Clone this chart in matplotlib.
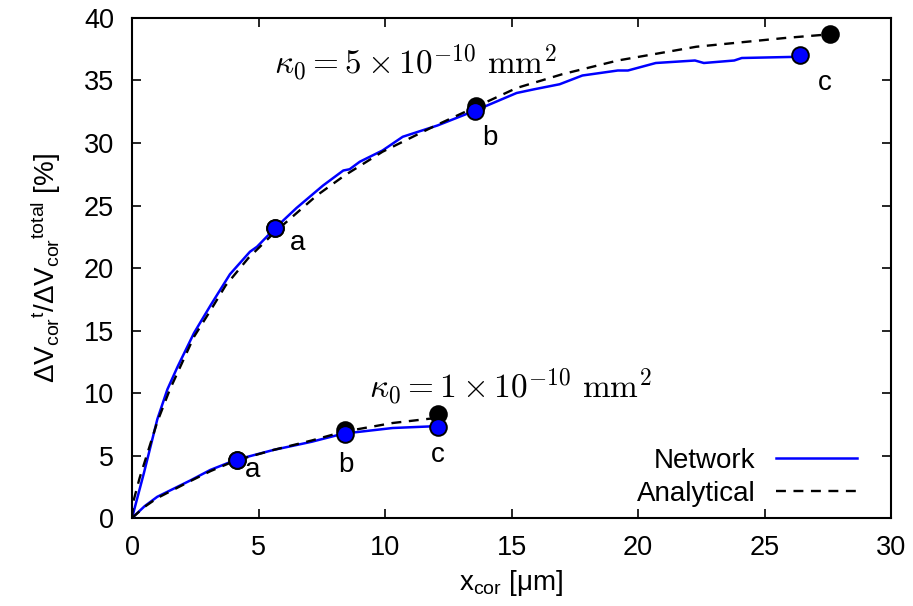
import matplotlib
matplotlib.use("Agg")
from matplotlib import pyplot as plt

plt.rcParams['font.family'] = ['Liberation Sans', 'DejaVu Sans']
plt.rcParams['mathtext.fontset'] = 'custom'
plt.rcParams['mathtext.rm'] = 'Liberation Sans'
plt.rcParams['mathtext.it'] = 'Liberation Sans:italic'
plt.rcParams['mathtext.sf'] = 'Liberation Sans'

# kappa0 = 5e-10 mm^2
net5_x = [0, 0.47, 1.0, 1.4, 1.8, 2.45, 3.1, 3.87, 4.66, 4.94, 5.66, 6.5, 7.55, 8.35, 8.6, 9.0,
          9.9, 10.7, 12.07, 13.57, 15.2, 15.9, 16.9, 17.8, 19.2, 19.6, 20.7, 22.25, 22.6, 23.8,
          24.1, 26.4]
net5_y = [0, 3.6, 7.9, 10.3, 12.1, 14.8, 17.0, 19.5, 21.3, 21.7, 23.2, 24.8, 26.6, 27.8, 27.9, 28.5,
          29.4, 30.5, 31.4, 32.6, 34.0, 34.3, 34.7, 35.4, 35.8, 35.8, 36.4, 36.6, 36.4, 36.6,
          36.8, 36.9]
ana5_x = [0, 0.05, 0.3, 1.0, 1.5, 2.45, 3.1, 3.7, 4.6, 5.66, 7.3, 8.4, 9.9, 12.0, 13.6,
          15.2, 17.0, 19.2, 22.3, 25.8, 27.6]
ana5_y = [0, 1.3, 3.2, 7.7, 10.3, 14.5, 16.6, 18.6, 20.8, 22.9, 25.8, 27.4, 29.3, 31.4, 32.9,
          34.4, 35.5, 36.6, 37.7, 38.4, 38.7]

# kappa0 = 1e-10 mm^2
net1_x = [0, 0.5, 1.0, 2.3, 3.1, 4.1, 5.6, 7.1, 8.35, 10.3, 12.05]
net1_y = [0, 0.95, 1.7, 3.0, 3.85, 4.65, 5.45, 6.1, 6.75, 7.2, 7.35]
ana1_x = [0, 0.5, 1.0, 2.3, 3.1, 4.1, 5.6, 7.1, 8.35, 10.3, 12.0]
ana1_y = [0, 0.9, 1.6, 2.95, 3.75, 4.6, 5.45, 6.2, 6.9, 7.6, 8.0]

# marked points a, b, c
net5_pts_x = [5.66, 13.57, 26.4]
net5_pts_y = [23.2, 32.6, 37.0]
ana5_pts_x = [5.66, 13.6, 27.6]
ana5_pts_y = [23.2, 33.0, 38.7]
net1_pts_x = [4.15, 8.4, 12.1]
net1_pts_y = [4.65, 6.7, 7.3]
ana1_pts_x = [4.15, 8.4, 12.1]
ana1_pts_y = [4.65, 7.05, 8.3]

fig = plt.figure(figsize=(9.13, 6.06), dpi=100)
ax = fig.add_axes([0.1446, 0.1452, 0.8314, 0.8251])

dash = (0, (4.2, 3.2))
ax.plot(net5_x, net5_y, color='#0000ff', lw=1.8, label='Network', zorder=3)
ax.plot(ana5_x, ana5_y, color='black', lw=1.7, ls=dash, label='Analytical', zorder=4)
ax.plot(net1_x, net1_y, color='#0000ff', lw=1.8, zorder=3)
ax.plot(ana1_x, ana1_y, color='black', lw=1.7, ls=dash, zorder=4)

mk = dict(ls='none', marker='o', ms=12, mec='black', mew=1.4)
ax.plot(ana5_pts_x, ana5_pts_y, mfc='black', zorder=5, **mk)
ax.plot(ana1_pts_x, ana1_pts_y, mfc='black', zorder=5, **mk)
ax.plot(net5_pts_x, net5_pts_y, mfc='#0000ff', zorder=6, **mk)
ax.plot(net1_pts_x, net1_pts_y, mfc='#0000ff', zorder=6, **mk)

# point labels
ax.text(6.56, 22.0, 'a', fontsize=20, ha='center', va='center')
ax.text(14.15, 30.4, 'b', fontsize=20, ha='center', va='center')
ax.text(27.4, 34.8, 'c', fontsize=20, ha='center', va='center')
ax.text(4.78, 3.85, 'a', fontsize=20, ha='center', va='center')
ax.text(8.46, 4.25, 'b', fontsize=20, ha='center', va='center')
ax.text(12.1, 5.05, 'c', fontsize=20, ha='center', va='center')

ax.text(5.6, 36.4, r'$\kappa_0 = 5\times10^{-10}\ \mathrm{mm}^2$', fontsize=24,
        ha='left', va='center', math_fontfamily='cm')
ax.text(9.35, 10.5, r'$\kappa_0 = 1\times10^{-10}\ \mathrm{mm}^2$', fontsize=24,
        ha='left', va='center', math_fontfamily='cm')

ax.set_xlim(0, 30)
ax.set_ylim(0, 40)
ax.set_xticks(range(0, 31, 5))
ax.set_yticks(range(0, 41, 5))
ax.tick_params(direction='in', top=True, right=True, length=6.5, width=1.2, labelsize=19.5)
ax.tick_params(axis='y', pad=13)
ax.tick_params(axis='x', pad=12)
for s in ax.spines.values():
    s.set_linewidth(1.5)

ax.set_xlabel(r'$\mathrm{x_{cor}}$ [μm]', fontsize=20, labelpad=5)
ax.set_ylabel(r'$\Delta\mathrm{V_{cor}}{}^{\mathrm{t}}/\Delta\mathrm{V_{cor}}{}^{\mathrm{total}}$ [%]',
              fontsize=20, labelpad=15)

ax.legend(loc='lower right', bbox_to_anchor=(0.955, 0.022), frameon=False, markerfirst=False,
          fontsize=20, handlelength=2.9, handletextpad=0.75, labelspacing=0.25,
          borderpad=0, borderaxespad=0)

plt.savefig('out.png', dpi=100)
